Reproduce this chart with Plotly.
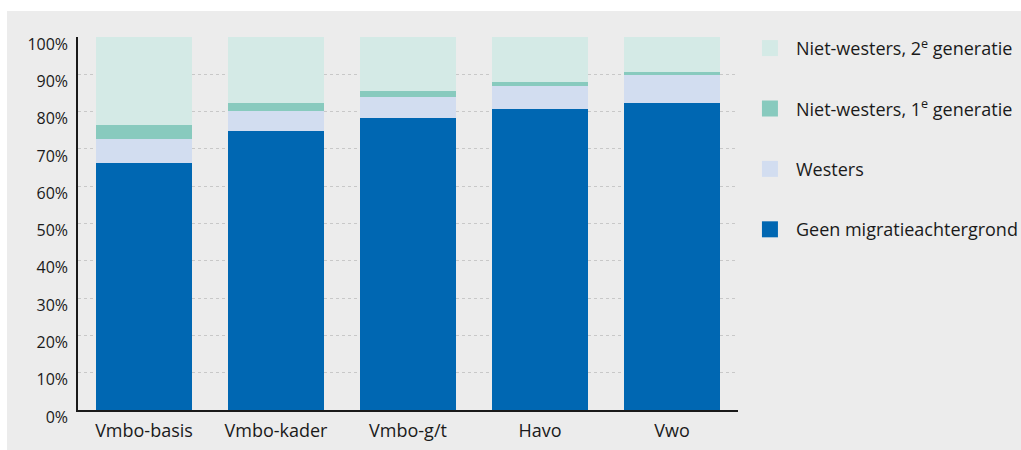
import plotly.graph_objects as go

categories = ["Vmbo-basis", "Vmbo-kader", "Vmbo-g/t", "Havo", "Vwo"]
geen = [66.3, 74.7, 78.2, 80.6, 82.3]
westers = [6.3, 5.4, 5.7, 6.2, 7.5]
nw1 = [3.7, 2.2, 1.6, 1.1, 0.8]
nw2 = [23.7, 17.7, 14.5, 12.1, 9.4]
tick_vals = [0, 10, 20, 30, 40, 50, 60, 70, 80, 90, 100]
tick_text = [f"{v}%" for v in tick_vals]

series = [
    ("Geen migratieachtergrond", geen, "#0067b2"),
    ("Westers", westers, "#d2ddf0"),
    ("Niet-westers, 1<sup>e</sup> generatie", nw1, "#88cabe"),
    ("Niet-westers, 2<sup>e</sup> generatie", nw2, "#d4eae6"),
]

fig = go.Figure()
for name, vals, col in series:
    fig.add_trace(go.Bar(x=categories, y=vals, name=name, marker_color=col,
                         marker_line_width=0, showlegend=False, hoverinfo="skip"))
# legend entries, top to bottom in reverse stacking order
for i, (name, vals, col) in enumerate(reversed(series)):
    fig.add_trace(go.Scatter(x=[None], y=[None], mode="markers", name=name,
                             legendgroup=f"g{i}",
                             marker=dict(symbol="square", size=20, color=col)))

FONT = "Open Sans"
W, H = 1021, 450
PL, PR, PT, PB = 78, 738, 37, 410
pw, ph = PR - PL, PB - PT


def px(v):
    return (v - PL) / pw


def py(v):
    return (PB - v) / ph


fig.update_layout(
    width=W, height=H,
    barmode="stack", bargap=0.273,
    paper_bgcolor="#ececec", plot_bgcolor="rgba(0,0,0,0)",
    margin=dict(l=PL, r=W - PR, t=PT, b=H - PB, autoexpand=False),
    font=dict(family=FONT, color="#1a1a1a"),
    legend=dict(x=1.009, y=1.019, xanchor="left", yanchor="top",
                traceorder="grouped", tracegroupgap=34,
                itemwidth=42, font=dict(size=18, family=FONT, color="#1a1a1a"),
                bgcolor="rgba(0,0,0,0)"),
    shapes=[
        dict(type="rect", xref="paper", yref="paper", layer="below",
             x0=px(-2), x1=px(W + 2), y0=py(11), y1=py(-2),
             fillcolor="white", line_width=0),
        dict(type="rect", xref="paper", yref="paper", layer="below",
             x0=px(-2), x1=px(7), y0=py(H + 2), y1=py(-2),
             fillcolor="white", line_width=0),
    ],
)
fig.update_xaxes(showline=True, linecolor="#1a1a1a", linewidth=1.5,
                 tickfont=dict(size=18), ticks="", showgrid=False, automargin=False,
                 ticklabelstandoff=4)
fig.update_yaxes(range=[0, 100], tickvals=tick_vals, ticktext=tick_text,
                 showline=True, linecolor="#1a1a1a", linewidth=1.5,
                 showgrid=True, gridcolor="#c8c8c8", griddash="3px,3px",
                 gridwidth=1, zeroline=False, tickfont=dict(size=16),
                 ticklabelshift=7, ticklabelstandoff=5, automargin=False)

fig.write_html("out.html", config={"displayModeBar": False},
               post_script="document.body.style.margin='0';")
